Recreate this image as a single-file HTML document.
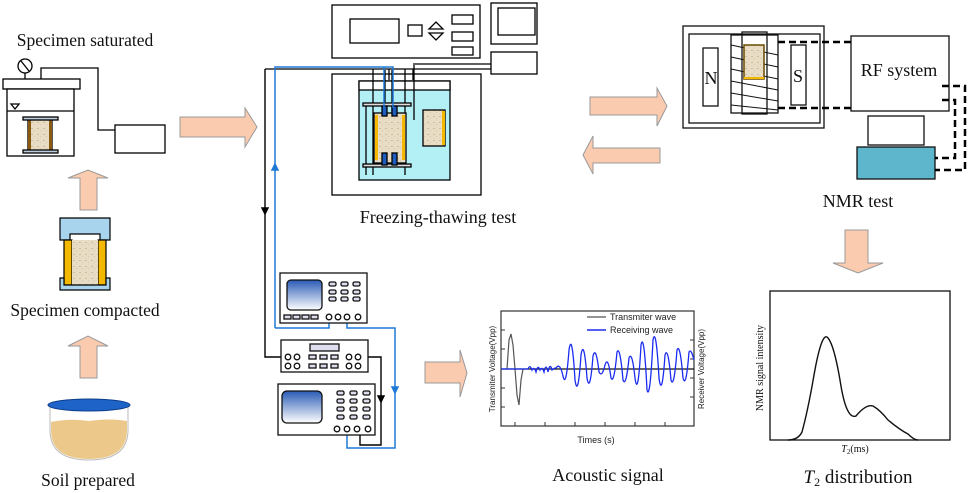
<!DOCTYPE html>
<html><head><meta charset="utf-8"><style>
html,body{margin:0;padding:0;background:#fff}
svg{display:block}
.s{font-family:"Liberation Serif",serif;fill:#111}
.a{font-family:"Liberation Sans",sans-serif;fill:#222}
</style></head><body>
<svg width="969" height="493" viewBox="0 0 969 493" xmlns="http://www.w3.org/2000/svg">
<defs>
<linearGradient id="scr" x1="0" y1="0" x2="0" y2="1"><stop offset="0" stop-color="#2a5bb5"/><stop offset="1" stop-color="#ffffff"/></linearGradient>
<pattern id="soil" width="6" height="6" patternUnits="userSpaceOnUse"><rect width="6" height="6" fill="#e8dcc4"/><rect x="1" y="2" width="2" height="1" fill="#cdbd9c"/><rect x="4" y="4" width="1" height="1" fill="#d6c7a8"/></pattern>
</defs>
<g stroke="#000" stroke-width="1.3" fill="none">
<circle cx="25" cy="66" r="7" fill="#fff"/><line x1="21" y1="61" x2="29" y2="71"/><line x1="25" y1="73" x2="25" y2="79"/>
<rect x="3" y="79" width="77" height="10" fill="#fff"/>
<rect x="7" y="89" width="67" height="67" fill="#fff"/>
<line x1="7" y1="111" x2="74" y2="111"/>
<path d="M11 104 L19 104 L15 109 Z"/>
<rect x="28" y="118" width="24" height="34" fill="url(#soil)"/>
<rect x="28" y="118" width="3" height="34" fill="#8a5a10" stroke="none"/>
<rect x="49" y="118" width="3" height="34" fill="#8a5a10" stroke="none"/>
<rect x="23" y="117" width="35" height="3" fill="#bcd"/>
<rect x="23" y="150" width="35" height="3" fill="#bcd"/>
<path d="M41 79 V68 H98 V130 H115"/>
<rect x="115" y="125" width="50" height="28" fill="#fff"/>
</g>
<text class="s" x="85" y="46" font-size="17.5" text-anchor="middle">Specimen saturated</text>
<g fill="#fbcbb0" stroke="#999" stroke-width="1">
<path d="M180 117 H245 V108 L257 127 L245 147 V137 H180 Z"/>
<path d="M80 210 V178 H68 L88 170 L108 178 H97 V210 Z"/>
<path d="M80 378 V346 H68 L88 336 L108 346 H97 V378 Z"/>
<path d="M425 362 H460 V350 L467 373 L460 397 V383 H425 Z"/>
<path d="M590 97 H657 V88 L667 106 L657 126 V115 H590 Z"/>
<path d="M660 148 H593 V136 L583 155 L593 174 V163 H660 Z"/>
<path d="M845 230 V263 H833 L858 273 L883 263 H868 V230 Z"/>
</g>
<g stroke="#000" stroke-width="1.2">
<path d="M60 218 H110 V240 H100 V234 H70 V240 H60 Z" fill="#a9d4ee"/>
<rect x="64" y="240" width="8" height="45" fill="#f5b800"/>
<rect x="98" y="240" width="8" height="45" fill="#f5b800"/>
<rect x="72" y="240" width="26" height="45" fill="url(#soil)" stroke="none"/>
<path d="M60 278 H64 V285 H106 V278 H110 V290 H60 Z" fill="#a9d4ee"/>
</g>
<text class="s" x="85" y="316" font-size="17.5" text-anchor="middle">Specimen compacted</text>
<path d="M50 405 V430 Q50 460 89 460 Q128 460 128 430 V405 Z" fill="#fff" stroke="#bbb"/>
<path d="M51 422 Q70 418 89 421 Q110 418 127 421 V430 Q127 459 89 459 Q51 459 51 430 Z" fill="#ecc98a"/>
<ellipse cx="89" cy="405" rx="41" ry="6" fill="#1e64c8" stroke="#0c3d8a"/>
<text class="s" x="88" y="486" font-size="17.5" text-anchor="middle">Soil prepared</text>
<g stroke="#000" stroke-width="1.3" fill="#fff">
<rect x="332" y="5" width="148" height="53"/>
<rect x="350" y="19" width="49" height="24"/>
<rect x="408" y="25" width="14" height="11"/>
<path d="M429 29 L436 22 L443 29 Z M429 33 L443 33 L436 40 Z"/>
<rect x="452" y="15" width="21" height="9"/><rect x="452" y="32" width="21" height="9"/><rect x="452" y="47" width="21" height="8"/>
<rect x="491" y="3" width="46" height="41"/>
<rect x="498" y="8" width="37" height="27"/>
<rect x="491" y="52" width="46" height="22"/>
<rect x="332" y="74" width="149" height="121"/>
<rect x="359" y="81" width="91" height="99" fill="#b3f0f5"/>
<rect x="359" y="81" width="91" height="9" fill="#fff"/>
</g>
<g stroke="#000" stroke-width="1.3" fill="none">
<path d="M265 69 H491 M389 69 V80 M413 69 V80 M413 64 H491"/>
<line x1="373" y1="69" x2="373" y2="175"/><line x1="405" y1="69" x2="405" y2="175"/>
<line x1="366" y1="105" x2="366" y2="175"/>
<line x1="414" y1="65" x2="414" y2="120"/>
<line x1="385" y1="70" x2="385" y2="115"/><line x1="392" y1="70" x2="392" y2="115"/>
<rect x="363" y="103" width="48" height="3" fill="#ddd"/>
<rect x="363" y="164" width="48" height="3" fill="#ddd"/>
<rect x="374" y="113" width="32" height="50" fill="url(#soil)"/>
<rect x="375" y="115" width="3" height="45" fill="#f5b800" stroke="none"/><rect x="402" y="115" width="3" height="45" fill="#f5b800" stroke="none"/>
<rect x="382" y="106" width="5" height="10" fill="#1e5cc0"/><rect x="392" y="106" width="5" height="10" fill="#1e5cc0"/>
<rect x="382" y="153" width="5" height="12" fill="#1e5cc0"/><rect x="392" y="153" width="5" height="12" fill="#1e5cc0"/>
<rect x="423" y="110" width="22" height="36" fill="url(#soil)"/>
<rect x="442" y="111" width="3" height="34" fill="#f5b800" stroke="none"/>
</g>
<g stroke="#1e78d8" stroke-width="1.5" fill="none">
<path d="M275 328 V67 H393 V108 M384 67 V108"/>
<path d="M275 328 H329 V320"/>
<path d="M347 320 V328 H395 V448 H347 V433"/>
<path d="M272 170 L275 164 L278 170 Z" fill="#1e78d8"/>
<path d="M392 387 L395 393 L398 387 Z" fill="#1e78d8"/>
</g>
<g stroke="#000" stroke-width="1.4" fill="none">
<path d="M265 69 V357 H285"/>
<path d="M357 357 H381 V445 H360 V432"/>
<path d="M262 208 L265 214 L268 208 Z" fill="#000"/>
<path d="M378 396 L381 402 L384 396 Z" fill="#000"/>
</g>
<text class="s" x="438" y="223" font-size="18" text-anchor="middle">Freezing-thawing test</text>
<g stroke="#111" stroke-width="1.3" fill="#fff">
<rect x="280" y="273" width="87" height="50"/>
<rect x="287" y="280" width="35" height="30" rx="4" fill="url(#scr)"/>
<g fill="#dde"><rect x="329" y="282" width="7" height="4" rx="1.5"/><rect x="341" y="282" width="7" height="4" rx="1.5"/><rect x="353" y="282" width="7" height="4" rx="1.5"/>
<rect x="329" y="290" width="7" height="4" rx="1.5"/><rect x="341" y="290" width="7" height="4" rx="1.5"/><rect x="353" y="290" width="7" height="4" rx="1.5"/>
<rect x="329" y="297" width="7" height="4" rx="1.5"/><rect x="341" y="297" width="7" height="4" rx="1.5"/><rect x="353" y="297" width="7" height="4" rx="1.5"/>
<rect x="284" y="315" width="7" height="4"/><rect x="293" y="315" width="7" height="4"/><rect x="302" y="315" width="7" height="4"/><rect x="311" y="315" width="7" height="4"/></g>
<circle cx="329" cy="317" r="2.8"/><circle cx="338" cy="317" r="2.8"/><circle cx="347" cy="317" r="2.8"/><circle cx="358" cy="317" r="2.8"/>
<rect x="281" y="340" width="87" height="32"/>
<rect x="310" y="344" width="29" height="7" fill="#dde"/>
<circle cx="288" cy="357" r="2.8"/><circle cx="297" cy="357" r="2.8"/><circle cx="288" cy="366" r="2.8"/><circle cx="297" cy="366" r="2.8"/>
<circle cx="349" cy="357" r="2.8"/><circle cx="358" cy="357" r="2.8"/><circle cx="349" cy="366" r="2.8"/><circle cx="358" cy="366" r="2.8"/>
<g fill="#dde"><rect x="309" y="355" width="7" height="4"/><rect x="320" y="355" width="7" height="4"/><rect x="331" y="355" width="7" height="4"/>
<rect x="309" y="364" width="7" height="4"/><rect x="320" y="364" width="7" height="4"/><rect x="331" y="364" width="7" height="4"/></g>
<rect x="278" y="384" width="97" height="51"/>
<rect x="282" y="391" width="40" height="32" rx="5" fill="url(#scr)"/>
<g fill="#dde"><rect x="337" y="391" width="7" height="4" rx="1.5"/><rect x="350" y="391" width="7" height="4" rx="1.5"/><rect x="363" y="391" width="7" height="4" rx="1.5"/>
<rect x="337" y="399" width="7" height="4" rx="1.5"/><rect x="350" y="399" width="7" height="4" rx="1.5"/><rect x="363" y="399" width="7" height="4" rx="1.5"/>
<rect x="337" y="407" width="7" height="4" rx="1.5"/><rect x="350" y="407" width="7" height="4" rx="1.5"/><rect x="363" y="407" width="7" height="4" rx="1.5"/>
<rect x="337" y="415" width="7" height="4" rx="1.5"/><rect x="350" y="415" width="7" height="4" rx="1.5"/><rect x="363" y="415" width="7" height="4" rx="1.5"/></g>
<circle cx="337" cy="429" r="2.8"/><circle cx="347" cy="429" r="2.8"/><circle cx="357" cy="429" r="2.8"/><circle cx="368" cy="429" r="2.8"/>
</g>
<rect x="501" y="311" width="193" height="115" fill="#fff" stroke="#333" stroke-width="1.2"/>
<g stroke="#333" stroke-width="1"><line x1="501" y1="330" x2="505" y2="330"/><line x1="501" y1="349" x2="505" y2="349"/><line x1="501" y1="388" x2="505" y2="388"/><line x1="501" y1="407" x2="505" y2="407"/>
<line x1="690" y1="340" x2="694" y2="340"/><line x1="690" y1="359" x2="694" y2="359"/><line x1="690" y1="378" x2="694" y2="378"/><line x1="690" y1="397" x2="694" y2="397"/>
<line x1="515" y1="426" x2="515" y2="422"/><line x1="545" y1="426" x2="545" y2="422"/><line x1="575" y1="426" x2="575" y2="422"/><line x1="605" y1="426" x2="605" y2="422"/><line x1="635" y1="426" x2="635" y2="422"/><line x1="665" y1="426" x2="665" y2="422"/></g>
<line x1="501" y1="369" x2="694" y2="369" stroke="#111" stroke-width="1.2"/>
<path d="M507 369 L509 340 L511 334 L513 345 L515 369 L517 395 L519 405 L521 380 L523 369" stroke="#555" stroke-width="1.2" fill="none"/>
<path d="M501 369 H528 Q530 364 532 370 Q534 366 536 372 Q538 364 540 370 Q542 366 544 372 Q546 362 548 372 Q550 362 552 370 Q554 368 556 368 Q560 362 563 376 Q566 390 569 350 Q572 330 575 380 Q578 400 581 355 Q584 337 587 378 Q590 395 593 356 Q596 345 599 372 Q602 378 605 365 Q608 355 611 378 Q614 385 617 352 Q620 345 623 380 Q626 388 629 358 Q632 350 635 378 Q638 400 641 345 Q644 330 647 390 Q650 402 653 340 Q656 325 659 378 Q662 400 665 355 Q668 345 671 380 Q674 390 677 350 Q680 342 683 378 Q686 390 689 352 Q691 348 694 360" stroke="#1b2cf0" stroke-width="1.3" fill="none"/>
<line x1="587" y1="317" x2="606" y2="317" stroke="#555" stroke-width="1.2"/>
<line x1="587" y1="330" x2="606" y2="330" stroke="#1b2cf0" stroke-width="1.5"/>
<text class="a" x="610" y="320" font-size="9">Transmiter wave</text>
<text class="a" x="610" y="333" font-size="9">Receiving wave</text>
<text class="a" x="495" y="369" font-size="8" text-anchor="middle" transform="rotate(-90 495 369)">Transmiter Voltage(Vpp)</text>
<text class="a" x="704" y="369" font-size="8" text-anchor="middle" transform="rotate(-90 704 369)">Receiver Voltage(Vpp)</text>
<text class="a" x="596" y="443" font-size="9" text-anchor="middle">Times (s)</text>
<text class="s" x="608" y="481" font-size="18" text-anchor="middle">Acoustic signal</text>
<g stroke="#111" stroke-width="1.3" fill="#fff">
<rect x="683" y="26" width="141" height="102"/>
<rect x="689" y="34" width="131" height="89"/>
<rect x="703" y="48" width="15" height="58"/>
<rect x="791" y="45" width="15" height="60"/>
<rect x="742" y="32" width="25" height="82" fill="none"/>
<rect x="731" y="35" width="47" height="78" fill="none"/>
<g stroke-width="1"><line x1="731" y1="45" x2="778" y2="55"/><line x1="731" y1="57" x2="778" y2="67"/><line x1="731" y1="69" x2="778" y2="79"/><line x1="731" y1="81" x2="778" y2="90"/><line x1="731" y1="93" x2="778" y2="101"/><line x1="731" y1="105" x2="778" y2="110"/></g>
<rect x="744" y="45" width="20" height="34" fill="url(#soil)" stroke="#6a4a00" stroke-width="1.5"/>
<rect x="851" y="36" width="98" height="75"/>
<rect x="868" y="116" width="56" height="29"/>
<rect x="857" y="147" width="78" height="32" fill="#5db6cc"/>
</g>
<line x1="744" y1="78" x2="764" y2="78" stroke="#f5b800" stroke-width="2"/>
<text class="s" x="711" y="84" font-size="18" text-anchor="middle">N</text>
<text class="s" x="798" y="82" font-size="18" text-anchor="middle">S</text>
<text class="s" x="899" y="76" font-size="18" text-anchor="middle">RF system</text>
<g stroke="#000" stroke-width="2.5" fill="none" stroke-dasharray="7 4">
<path d="M778 42 H851"/><path d="M778 108 H851"/>
<path d="M942 86 H965 V170 H935"/>
<path d="M942 100 H955 V158 H935"/>
</g>
<text class="s" x="858" y="207" font-size="18" text-anchor="middle">NMR test</text>
<rect x="770" y="291" width="180" height="149" fill="#fff" stroke="#111" stroke-width="1.3"/>
<path d="M788 440 Q798 440 802 432 Q808 410 814 375 Q822 330 828 338 Q834 345 840 380 Q846 420 856 416 Q866 404 873 406 Q880 410 888 420 Q900 430 908 434 Q914 440 918 440" stroke="#111" stroke-width="1.4" fill="none"/>
<text class="s" x="763" y="368" font-size="10" text-anchor="middle" transform="rotate(-90 763 368)">NMR signal intensity</text>
<text class="s" x="855" y="452" font-size="10" text-anchor="middle"><tspan font-style="italic">T</tspan><tspan font-size="7" dy="2">2</tspan><tspan dy="-2">(ms)</tspan></text>
<text class="s" x="858" y="483" font-size="19" text-anchor="middle"><tspan font-style="italic">T</tspan><tspan font-size="12" dy="3">2</tspan><tspan dy="-3"> distribution</tspan></text>
</svg>
</body></html>
